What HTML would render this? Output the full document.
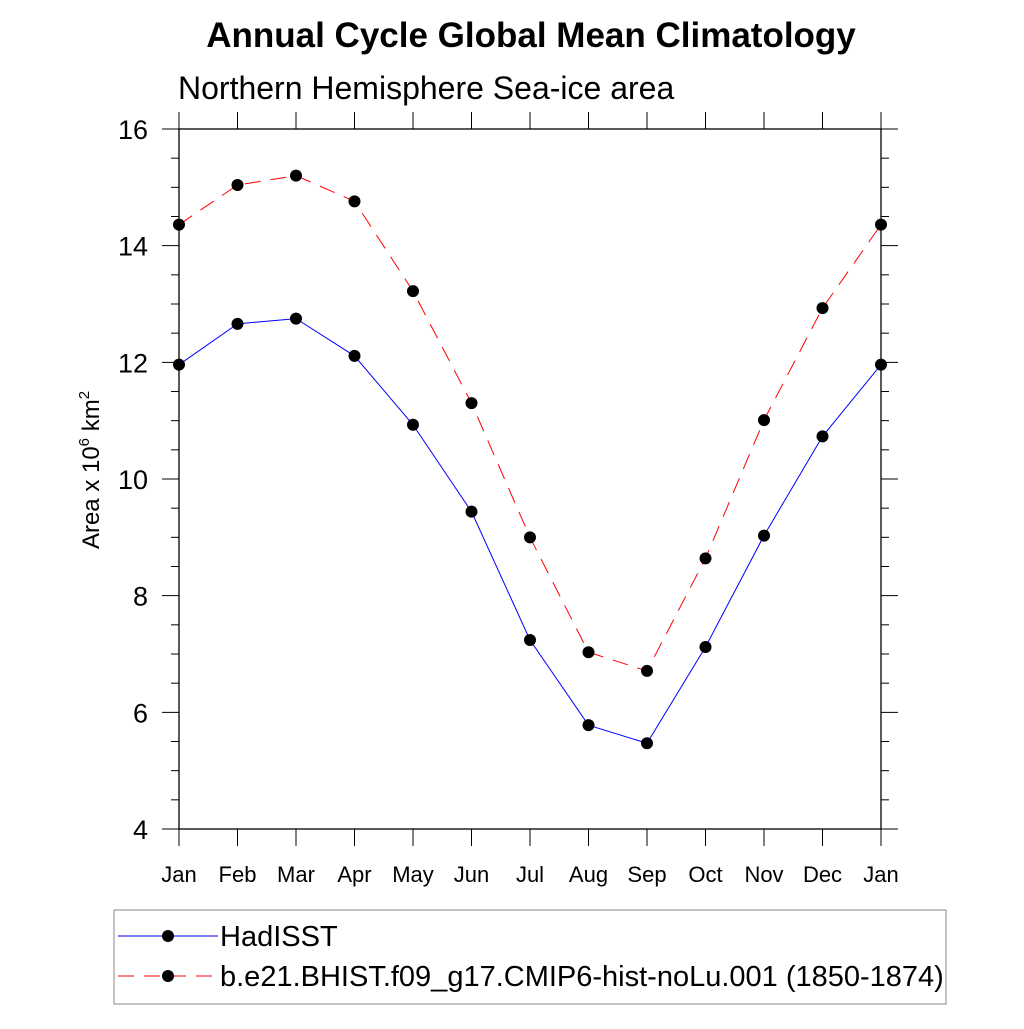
<!DOCTYPE html>
<html><head><meta charset="utf-8"><style>
body{margin:0;background:#fff;}
svg text{font-family:"Liberation Sans",Arial,sans-serif;}
</style></head><body>
<svg id="chart" width="1024" height="1024" xmlns="http://www.w3.org/2000/svg">
<text x="531" y="47" font-size="35" font-weight="bold" text-anchor="middle">Annual Cycle Global Mean Climatology</text>
<text x="178" y="99" font-size="32">Northern Hemisphere Sea-ice area</text>
<text transform="translate(99,470) rotate(-90)" font-size="24" text-anchor="middle">Area x 10<tspan dy="-10" font-size="15">6</tspan><tspan dy="10"> km</tspan><tspan dy="-10" font-size="15">2</tspan></text>
<g id="axes"></g>
<g id="marks"></g>
<rect x="114" y="910" width="832" height="94" fill="none" stroke="#888" stroke-width="1"/>
<line x1="118" y1="936" x2="218" y2="936" stroke="#00f" stroke-width="1"/>
<circle cx="168" cy="936" r="6" fill="#000"/>
<text x="220" y="946" font-size="29">HadISST</text>
<line x1="118" y1="976" x2="218" y2="976" stroke="#f00" stroke-width="1" stroke-dasharray="16,10"/>
<circle cx="168" cy="976" r="6" fill="#000"/>
<text x="220" y="986" font-size="29">b.e21.BHIST.f09_g17.CMIP6-hist-noLu.001 (1850-1874)</text>
</svg>
<script>
const months=["Jan","Feb","Mar","Apr","May","Jun","Jul","Aug","Sep","Oct","Nov","Dec","Jan"];
const hadisst=[11.96,12.66,12.75,12.11,10.93,9.44,7.24,5.78,5.47,7.12,9.03,10.73,11.96];
const model=[14.36,15.04,15.20,14.76,13.22,11.30,9.00,7.03,6.71,8.64,11.01,12.93,14.36];
const yTicks=[4,6,8,10,12,14,16];
const X0=179,X1=881,Y0=829,Y1=129;
const xs=i=>X0+(X1-X0)*i/12;
const ys=v=>Y0-(v-4)/12*(Y0-Y1);
const NS="http://www.w3.org/2000/svg";
function mk(t,a,p){const e=document.createElementNS(NS,t);for(const k in a)e.setAttribute(k,a[k]);p.appendChild(e);return e;}
const ax=document.getElementById('axes'),mg=document.getElementById('marks');
const fr=mk('rect',{x:X0,y:Y1,width:X1-X0,height:Y0-Y1,fill:'none',stroke:'#000','stroke-width':1.3},ax);


for(let i=0;i<months.length;i++){
  const x=xs(i);
  const t1=mk('line',{x1:x,y1:Y0,x2:x,y2:Y0+17,stroke:'#000'},ax);
  
  
  const t2=mk('line',{x1:x,y1:Y1,x2:x,y2:Y1-17,stroke:'#000'},ax);
  
  
  const l=mk('text',{x:x,y:882,'font-size':22,'text-anchor':'middle'},ax);l.textContent=months[i];
  
  
}
for(let v=4;v<=16.001;v+=0.5){
  const y=ys(v),maj=Math.abs(v-Math.round(v/2)*2)<1e-6,len=maj?17:8;
  const a=mk('line',{x1:X0,y1:y,x2:X0-len,y2:y,stroke:'#000'},ax);
  
  
  const b=mk('line',{x1:X1,y1:y,x2:X1+len,y2:y,stroke:'#000'},ax);
  
  
}
yTicks.forEach(v=>{
  const l=mk('text',{x:148,y:ys(v)+10,'font-size':27,'text-anchor':'end'},ax);l.textContent=v;
  
  
});
function series(d,color,dash,name){
  const p=mk('polyline',{points:d.map((v,i)=>xs(i)+','+ys(v)).join(' '),fill:'none',stroke:color,'stroke-width':1,'stroke-dasharray':dash},mg);
  
  
  d.forEach((v,i)=>{
    const c=mk('circle',{cx:xs(i),cy:ys(v),r:6,fill:'#000'},mg);
    
    
  });
}
series(model,'#f00','16,10','model');
series(hadisst,'#00f','none','hadisst');
</script>
</body></html>
